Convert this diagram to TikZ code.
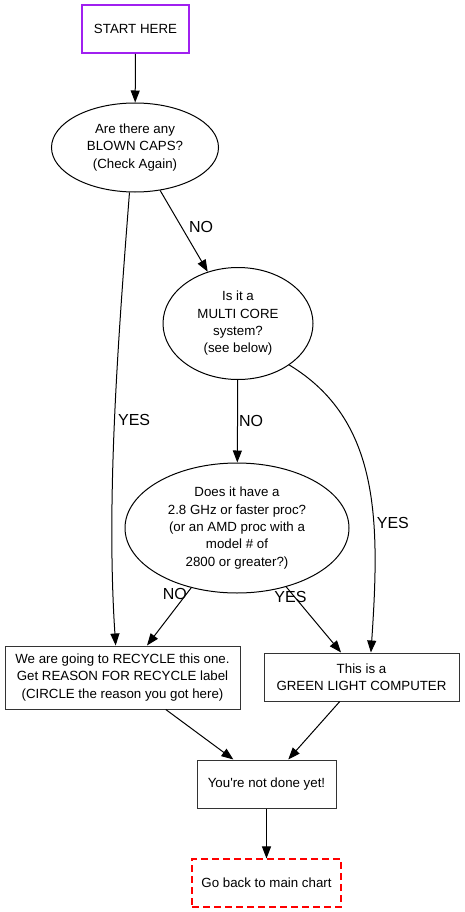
\documentclass[tikz,border=0pt]{standalone}
\usepackage{fontspec}
\setmainfont{Liberation Sans}
\usepackage{xcolor}
\usetikzlibrary{arrows.meta, shapes.geometric}

\definecolor{gvpurple}{HTML}{A020F0}

\begin{document}
\begin{tikzpicture}[
        x=1pt, y=-1pt,
        box/.style={rectangle, draw=black!80, line width=1pt, align=center, inner sep=0pt, font={\fontsize{13.3}{17.3}\selectfont}},
        question/.style={ellipse, draw, line width=1pt, align=center, inner sep=0pt, font={\fontsize{13.3}{17.3}\selectfont}},
        lbl/.style={inner sep=0pt, font={\fontsize{16}{19}\selectfont}},
        arrow/.style={line width=1pt, -{Triangle[length=12pt, width=9pt]}}
    ]
        \useasboundingbox (0,0) rectangle (464,912);

        % Questions
        \node[box, draw=gvpurple, line width=2pt, minimum width=107pt, minimum height=48pt] (startHere) at (135.5,29) {START HERE};
        \node[question, minimum width=167pt, minimum height=89pt] (blownCaps) at (135,147.5) {Are there any\\BLOWN CAPS?\\(Check Again)};
        \node[question, minimum width=150pt, minimum height=112pt] (multiCore) at (238,323.5) {Is it a\\MULTI CORE\\system?\\(see below)};
        \node[question, minimum width=224pt, minimum height=130pt] (fastProc) at (237,528) {Does it have a\\2.8 GHz or faster proc?\\(or an AMD proc with a\\model \# of\\2800 or greater?)};

        % Results
        \node[box, minimum width=235pt, minimum height=63pt] (recycle) at (122.5,677.5) {We are going to RECYCLE this one.\\Get REASON FOR RECYCLE label\\(CIRCLE the reason you got here)};
        \node[box, minimum width=195pt, minimum height=48pt] (greenLight) at (361.5,677) {This is a\\GREEN LIGHT COMPUTER};
        \node[box, minimum width=139pt, minimum height=48pt] (notDone) at (266.5,784) {You\textquotesingle re not done yet!};
        \node[box, draw=red, line width=1.1pt, dash pattern=on 7pt off 4pt, minimum width=149pt, minimum height=48pt] (mainChart) at (266.5,883) {Go back to main chart};

        % Arrows for questions
        \draw[arrow] (startHere) -- (blownCaps);
        \draw[arrow] (blownCaps) -- node[lbl, pos=0.45, right=7pt] {NO} (multiCore);
        \draw[arrow] (blownCaps.-97) .. controls (118,340) and (106,500) .. node[lbl, pos=0.5, right=3pt] {YES} (recycle.102);
        \draw[arrow] (multiCore) -- node[lbl, right=1pt] {NO} (fastProc);
        \draw[arrow] (multiCore.-39) .. controls (380,420) and (380,520) .. node[lbl, pos=0.64, right=3pt] {YES} (greenLight.69);
        \draw[arrow] (fastProc) -- node[lbl, pos=0.1, xshift=-12pt] {NO} (recycle);
        \draw[arrow] (fastProc) -- node[lbl, pos=0.15, xshift=-4pt] {YES} (greenLight);

        % Arrows for results
        \draw[arrow] (recycle) -- (notDone);
        \draw[arrow] (greenLight) -- (notDone);
        \draw[arrow] (notDone) -- (mainChart);

    \end{tikzpicture}
\end{document}
